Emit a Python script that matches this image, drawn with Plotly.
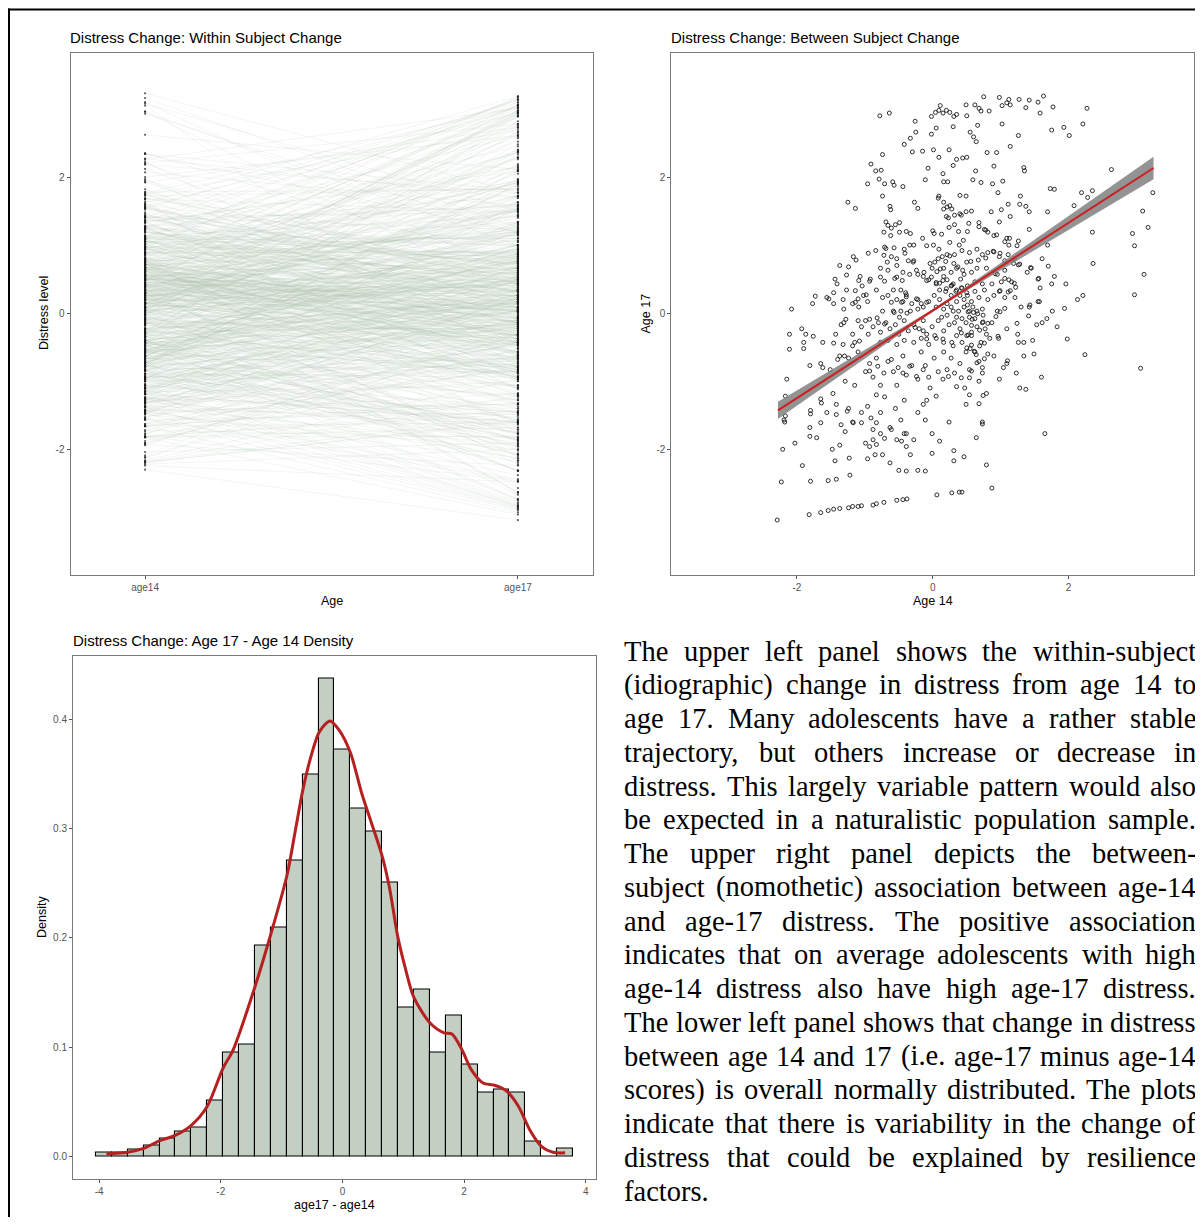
import numpy as np
import plotly.graph_objects as go

# page body has an 8px margin; figure is placed at (8, 8) in the page
OX, OY = 8, 8
W, H = 1195, 1209

# ---------------- data ----------------
ages = ["age14", "age17"]

# per-subject standardized distress at age 14 / age 17
age14_main = [
    -0.78,-0.64,-0.26,-0.02,0.04,0.09,0.11,0.15,0.20,0.25,0.31,0.35,0.30,
    0.49,0.50,0.62,0.68,0.71,0.66,0.75,0.83,0.98,1.02,1.09,1.12,1.14,1.27,1.37,1.42,1.55,1.63,1.58,1.77,2.27,2.21,1.93,2.01,1.75,1.26,1.02,1.14,0.55,0.60,0.64,
    -0.33,-0.25,-0.42,-0.30,-0.15,0.01,-0.02,0.05,0.09,0.24,0.35,0.44,0.50,0.30,0.80,0.94,0.90,1.34,1.35,2.63,-0.91,-0.84,-0.76,-0.74,-0.96,-0.79,-0.71,-0.59,-0.57,-0.44,
    -0.07,0.15,0.16,0.22,-0.11,0.59,0.63,0.71,0.88,0.96,1.03,0.09,0.16,0.40,0.49,1.73,1.79,2.19,2.35,2.28,2.08,3.24,
    -1.25,-1.14,-0.74,-0.63,-0.62,-0.27,-0.22,0.21,0.23,0.40,0.49,0.57,0.86,1.01,1.11,1.14,1.29,1.28,1.37,1.42,
    1.69,3.09,3.17,2.94,2.97,3.11,2.35,2.36,1.79,1.96,2.13,2.21,2.97,1.94,1.98,2.24,3.06,1.65,0.87,
    -0.69,-0.66,-0.55,-0.49,-0.62,-0.72,-0.39,-0.33,-0.28,-0.15,0.02,0.13,0.24,0.32,0.38,0.51,0.68,0.76,0.81,0.90,0.98,1.09,1.12,1.24,1.42,1.69,
    -1.17,-1.24,-1.37,-1.27,-1.44,-1.41,-1.07,-0.95,-0.84,-0.92,-0.71,-0.57,-0.77,-0.66,-0.53,-0.42,-0.36,-0.28,-0.44,-0.53,
    -0.34,-0.22,-0.14,-0.09,0.09,0.14,0.21,0.32,0.43,0.54,0.65,0.73,0.81,0.90,0.98,1.06,1.20,1.28,1.44,1.39,
    1.06,0.95,0.79,0.65,0.57,0.46,0.35,0.27,0.16,0.06,-0.01,-0.06,0.10,0.21,0.30,0.41,0.51,0.62,0.73,0.87,1.01,1.12,1.20,1.55,1.58,1.75,
    -2.08,-1.73,-1.77,-1.56,-1.46,-1.32,-1.31,-1.18,-1.10,-1.02,-0.96,-0.83,-0.74,-0.66,-0.58,-0.47,-0.39,-0.53,-0.44,-0.31,
    -0.22,-0.74,-0.58,-0.47,-0.33,-0.22,-0.14,-0.06,0.02,0.10,0.19,0.27,0.35,0.43,0.51,0.57,0.62,0.68,0.76,0.81,
    0.90,0.98,1.06,1.14,1.21,1.30,1.42,1.55,1.76,0.05,0.16,0.27,0.38,0.46,0.54,0.65,0.73,0.95,
    -2.11,-1.93,-1.87,-1.90,-2.11,-1.76,-1.62,-1.43,-1.46,-1.32,-1.31,-1.18,-1.15,-1.05,-0.99,-0.95,-0.88,-0.80,-0.77,-0.69,
    -0.63,-0.55,-0.50,-0.42,-0.36,-0.28,-0.20,-0.14,-0.09,-0.01,0.08,0.16,0.24,0.32,0.40,0.49,0.57,0.65,0.73,0.79,
    0.87,0.97,1.09,1.24,1.25,1.34,1.47,1.61,1.83,1.68,-0.77,-0.66,-0.53,-0.42,-0.28,-0.17,-0.06,0.05,0.16,0.30,0.43,0.57,0.71,0.84,
    -1.81,-1.65,-1.62,-1.51,-1.37,-1.29,-1.24,-1.15,-1.10,-0.99,-0.93,-0.88,-0.83,-0.77,-0.72,-0.66,-0.58,-0.53,-0.44,-0.39,
    -0.31,-0.22,-0.17,-0.11,-0.06,0.02,0.08,0.16,0.21,0.27,0.35,0.40,0.49,0.54,0.62,0.68,0.73,0.81,0.90,0.98,
    1.09,1.23,1.34,1.49,1.60,1.28,1.37,-2.15,
    -2.17,-2.19,-1.80,-1.80,-1.65,-1.47,-1.56,-1.65,-1.42,-1.81,-1.71,-1.81,-2.03,-2.21,-1.48,-1.37,-1.29,-1.18,-1.24,-1.05,
    -0.96,-0.91,-0.88,-0.83,-0.77,-0.71,-0.63,-0.55,-0.47,-0.42,-0.39,-0.28,-0.22,-0.14,-0.11,-0.09,-0.01,0.10,0.24,0.49,
    0.64,0.73,0.54,0.68,0.79,-0.99,-0.88,-0.77,-0.61,-0.53,-0.42,-2.17,-2.18,
    -2.23,-1.80,-1.54,-1.42,-1.22,-1.92,-1.44,-0.96,-0.85,-0.74,-0.63,-0.50,-0.39,-0.33,-0.22,-0.11,-0.01,0.31,0.31,0.46,0.79,
    -2.29,-1.82,-1.65,-1.54,-1.46,-1.37,-1.24,-1.18,-1.10,-1.05,-0.88,-0.83,-0.72,-0.53,-0.44,-0.38,0.06,0.28,0.39,0.43,
    0.40,0.46,0.51,0.59,0.35,0.30,0.21,0.13,0.35,0.43,0.54,0.62,0.21,0.10,0.05,0.27,0.16,
]
age17_main = [
    2.91,2.95,2.83,2.90,2.96,2.99,3.06,2.95,2.99,2.96,2.90,2.93,2.75,
    3.07,2.91,3.07,3.02,2.98,2.77,3.19,2.98,3.18,3.06,3.10,3.15,3.07,3.15,3.03,3.14,3.11,3.20,2.95,3.04,3.02,2.79,2.74,2.62,2.70,2.62,2.79,2.46,2.67,2.60,2.53,
    2.58,2.67,2.49,2.38,2.39,2.41,2.64,2.73,2.30,2.41,2.27,2.29,2.30,2.18,2.37,2.37,2.17,2.15,2.10,2.12,2.20,2.10,2.11,2.34,1.91,1.98,1.91,1.94,1.89,1.87,
    2.14,2.06,1.94,1.94,1.97,1.97,2.10,1.93,1.91,1.78,1.95,1.73,1.64,1.74,1.73,1.84,1.83,1.78,1.81,1.71,1.59,1.78,
    1.64,1.55,1.73,1.58,1.53,1.64,1.55,1.57,1.41,1.47,1.50,1.51,1.50,1.53,1.61,1.43,1.73,1.61,1.58,1.50,
    1.50,1.51,1.27,1.18,1.00,0.58,1.20,0.74,0.55,0.44,0.21,0.27,0.28,0.08,-0.37,-0.60,-0.80,-1.76,-2.56,
    1.35,1.30,1.31,1.34,1.15,1.20,1.21,1.18,1.01,1.11,1.18,1.17,1.27,1.31,1.21,1.21,1.28,1.24,1.20,1.15,1.35,1.11,1.01,1.00,1.24,1.01,
    0.84,0.69,0.71,0.57,0.51,0.44,0.55,0.89,0.93,0.51,0.98,0.97,0.67,0.64,0.81,0.95,0.78,0.78,0.61,0.54,
    0.58,0.58,0.55,1.00,0.95,0.84,0.87,0.87,0.93,0.90,0.95,0.87,0.90,0.91,0.84,0.78,0.81,0.73,0.68,0.61,
    0.64,0.58,0.67,0.67,0.61,0.58,0.67,0.61,0.67,0.62,0.67,0.50,0.45,0.50,0.44,0.51,0.41,0.47,0.44,0.44,0.47,0.50,0.45,0.51,0.38,0.44,
    0.07,0.26,0.15,0.24,0.15,0.21,0.07,0.15,0.22,0.27,0.18,0.35,0.24,0.27,0.35,0.35,0.28,0.21,0.18,0.15,
    0.21,0.04,0.04,0.04,0.04,0.07,0.10,0.18,0.27,0.21,0.33,0.27,0.35,0.38,0.27,0.18,0.33,0.24,0.35,0.21,
    0.27,0.33,0.24,0.34,0.24,0.10,0.10,0.18,0.04,0.10,0.07,0.10,0.04,0.10,0.04,0.04,0.07,0.04,
    -0.30,-0.22,-0.30,-0.42,-0.52,-0.33,-0.42,-0.30,-0.43,-0.45,-0.13,-0.30,-0.42,-0.19,-0.10,-0.30,-0.19,-0.13,-0.27,-0.13,
    -0.22,-0.16,-0.30,-0.10,-0.25,-0.16,-0.22,-0.10,-0.30,-0.19,-0.10,-0.25,-0.16,-0.13,-0.22,-0.13,-0.27,-0.19,-0.13,-0.30,
    -0.13,-0.36,-0.22,-0.14,-0.30,-0.42,-0.39,-0.13,-0.19,-0.07,-0.42,-0.39,-0.45,-0.39,-0.42,-0.36,-0.45,-0.36,-0.42,-0.47,-0.42,-0.46,-0.42,-0.36,
    -0.76,-0.73,-0.79,-0.82,-0.62,-0.99,-0.65,-1.05,-0.56,-0.85,-0.73,-0.93,-0.65,-1.05,-0.87,-0.70,-0.85,-1.05,-0.62,-0.90,
    -0.76,-0.96,-0.56,-0.76,-0.93,-0.65,-0.85,-0.56,-0.82,-0.65,-1.07,-0.73,-0.56,-0.82,-0.56,-0.70,-0.87,-0.59,-0.62,-0.96,
    -0.73,-0.87,-0.62,-0.59,-0.93,-1.09,-1.11,-0.96,
    -1.21,-1.56,-1.42,-1.47,-1.25,-1.17,-1.45,-1.60,-1.33,-1.67,-1.82,-1.80,-1.90,-1.99,-1.99,-1.93,-1.73,-1.59,-1.39,-1.45,
    -1.36,-1.53,-1.70,-1.19,-1.45,-1.22,-1.67,-1.39,-1.56,-1.27,-1.76,-1.85,-1.45,-1.33,-1.56,-1.27,-1.76,-1.87,-1.59,-1.33,
    -1.82,-1.59,-1.19,-1.32,-1.17,-1.90,-1.85,-1.76,-1.70,-1.85,-1.76,-1.50,-1.59,
    -2.47,-2.46,-2.45,-2.43,-2.37,-2.23,-2.16,-2.13,-2.07,-2.07,-2.19,-2.30,-2.31,-2.07,-2.30,-2.31,-2.05,-2.01,-2.16,-2.10,-2.22,
    -3.03,-2.95,-2.92,-2.89,-2.87,-2.86,-2.85,-2.83,-2.83,-2.82,-2.81,-2.79,-2.77,-2.74,-2.73,-2.72,-2.66,-2.63,-2.62,-2.62,
    0.27,0.21,0.13,0.10,0.18,0.04,-0.02,-0.05,-0.05,-0.07,-0.05,-0.07,0.15,0.35,0.44,0.41,0.55,
]
# additional subjects in the dense upper-left part of the cloud
age14_ul = [-0.49,-0.61,0.00,0.01,0.25,0.39,0.45,-1.13,-0.69,-1.09,-0.93,-1.46,-1.27,-1.14,-1.04,-0.98,
            -1.53,-1.14,-1.09,-0.67,-0.53,-0.72,-0.61,-0.41,-0.34,-0.77,-0.71,-0.56,-0.45,-0.40,
            -0.29,-0.24,-0.13,-0.04,0.03,0.08,0.11,0.19,0.25,0.31,0.37,0.44,0.50,
            -0.09,-0.02,0.05,0.15,0.20,0.28,0.34,0.42,0.50,-0.24,-0.17,-0.09,-0.46,-0.39,-0.61,
            0.08,0.16,0.25,0.28,0.20,0.32,0.42]
age17_ul = [1.20,1.26,1.22,1.01,1.05,1.01,1.08,0.79,0.96,0.49,0.48,0.31,0.35,0.34,0.41,0.28,
            0.22,0.17,0.10,0.76,0.71,0.86,0.84,0.89,1.01,0.54,0.48,0.52,0.49,0.31,
            0.76,0.64,0.61,0.74,0.76,0.81,0.66,0.77,0.85,0.74,0.69,0.64,0.76,
            0.49,0.54,0.46,0.49,0.37,0.42,0.33,0.38,0.31,0.22,0.15,0.17,0.17,0.25,0.17,
            1.70,1.54,1.59,1.54,1.43,1.45,1.45]
# additional subjects in the dense upper-right part of the cloud
age14_ur = [0.53,0.68,0.78,0.94,1.06,1.13,1.26,1.61,1.70,1.45,1.26,1.19,1.11,0.99,0.89,0.78,0.67,0.56,
            0.92,1.06,1.16,1.22,1.56,0.99,1.11,1.43,1.57]
age17_ur = [1.33,1.34,1.23,1.16,1.06,1.11,1.07,0.81,0.70,0.67,0.72,0.74,0.87,0.89,0.92,0.82,0.79,0.77,
            0.59,0.52,0.47,0.39,0.52,0.34,0.32,0.13,0.18]
# additional subjects in the dense lower-left part of the cloud
age14_ll = [-1.64,-1.42,-1.35,-1.26,-1.17,-1.05,-0.83,-0.46,-0.39,-0.71,-0.93,-0.83,-1.23,
            -1.40,-1.30,-1.18,-1.08,-0.93,-0.81,-0.61,-0.51,-0.44,-0.34,-0.24,-0.14,-0.04,0.05,0.15,0.23,0.32,0.42,0.47,
            -1.90,-1.35,-1.28,-1.10,-0.93,-0.82,-0.71,-0.57,-0.49,-0.38,-0.26,-0.14,-0.09,0.03,0.15,0.28,0.35,0.42,0.50]
age17_ll = [-1.31,-1.48,-1.63,-1.43,-1.60,-1.60,-1.60,-1.87,-1.95,-1.83,-1.95,-1.92,-2.12,
            -0.67,-0.62,-0.47,-0.40,-0.84,-0.77,-0.67,-0.79,-0.87,-0.77,-0.92,-0.82,-1.09,-1.21,-0.96,-0.92,-0.87,-0.94,-1.09,
            -0.51,-0.16,-0.08,-0.10,-0.08,-0.06,-0.15,0.02,-0.05,0.01,-0.20,-0.25,-0.37,-0.32,-0.37,-0.42,-0.32,-0.28,-0.32]
# additional subjects in the dense lower-right part of the cloud
age14_lr = [0.52,0.60,0.66,0.74,0.99,1.06,1.41,0.58,0.74,0.81,0.93,1.53,0.57,0.69,0.77,0.52,0.57,0.96,1.26,
            0.50,0.55,0.61,0.69,0.76,0.64,0.76,1.10,0.65,0.73,1.04,0.57,0.54,0.68,0.74,0.73]
age17_lr = [0.03,0.02,0.00,-0.02,0.03,0.08,-0.03,-0.08,-0.12,-0.14,-0.04,-0.16,-0.17,-0.24,-0.22,-0.31,-0.32,-0.33,-0.42,
            -0.50,-0.51,-0.55,-0.47,-0.43,-0.60,-0.66,-0.69,-0.72,-0.79,-0.79,-0.84,-0.94,-0.99,-1.20,-1.62]

for _a, _b in [(age14_main, age17_main), (age14_ul, age17_ul), (age14_ur, age17_ur),
               (age14_ll, age17_ll), (age14_lr, age17_lr)]:
    assert len(_a) == len(_b), (len(_a), len(_b))

age14 = age14_main + age14_ul + age14_ur + age14_ll + age14_lr
age17 = age17_main + age17_ul + age17_ur + age17_ll + age17_lr

# linear fit (geom_smooth, method = lm)
fit_slope = 0.644
fit_intercept = 0.05
fit_x_range = [-2.28, 3.25]
fit_se_center = 0.10        # x where the confidence band is narrowest
fit_se_c0 = 0.0004          # half-width^2 = c0 + c1 * (x - center)^2
fit_se_c1 = 0.0027

# histogram of age17 - age14 (30 bins, density scale)
hist_start = -4.054
hist_binwidth = 0.2615
hist_density = [0.003, 0.003, 0.006, 0.0098, 0.0165, 0.0226, 0.0266, 0.0507, 0.095, 0.102,
                0.193, 0.210, 0.271, 0.350, 0.438, 0.373, 0.319, 0.298, 0.251, 0.136,
                0.153, 0.095, 0.129, 0.084, 0.058, 0.061, 0.058, 0.0135, 0.0, 0.0067]

# kernel density curve
kde_x = [-3.88, -3.53, -3.27, -3.01, -2.75, -2.49, -2.23, -1.96, -1.80, -1.44, -1.17, -0.91, -0.77,
         -0.65, -0.51, -0.38, -0.205, -0.06, 0.13, 0.32, 0.648, 0.77, 0.91, 1.03, 1.17, 1.44, 1.67,
         1.80, 1.96, 2.12, 2.31, 2.50, 2.69, 2.89, 3.08, 3.27, 3.46, 3.66]
kde_y = [0.002, 0.0035, 0.007, 0.014, 0.019, 0.028, 0.045, 0.081, 0.097, 0.155, 0.205, 0.258, 0.300,
         0.336, 0.368, 0.389, 0.399, 0.391, 0.370, 0.332, 0.276, 0.247, 0.201, 0.173, 0.146, 0.122, 0.113,
         0.112, 0.098, 0.079, 0.067, 0.065, 0.060, 0.046, 0.024, 0.009, 0.0035, 0.003]

titles = ["Distress Change: Within Subject Change",
          "Distress Change: Between Subject Change",
          "Distress Change: Age 17 - Age 14 Density"]

text_lines = [
    "The upper left panel shows the within-subject",
    "(idiographic) change in distress from age 14 to",
    "age 17. Many adolescents have a rather stable",
    "trajectory, but others increase or decrease in",
    "distress. This largely variable pattern would also",
    "be expected in a naturalistic population sample.",
    "The upper right panel depicts the between-",
    "subject (nomothetic) association between age-14",
    "and age-17 distress. The positive association",
    "indicates that on average adolescents with high",
    "age-14 distress also have high age-17 distress.",
    "The lower left panel shows that change in distress",
    "between age 14 and 17 (i.e. age-17 minus age-14",
    "scores) is overall normally distributed. The plots",
    "indicate that there is variability in the change of",
    "distress that could be explained by resilience",
    "factors.",
]

# ---------------- helpers (page pixel -> paper) ----------------
def px(x):
    return (x - OX) / W

def py(y):
    return 1 - (y - OY) / H

SANS = "Liberation Sans, Arial, sans-serif"
SERIF = "Liberation Serif, Times New Roman, serif"

fig = go.Figure()

# ---- panel 1: within subject lines ----
lx, ly = [], []
for a, b in zip(age14, age17):
    lx += [0, 1, None]
    ly += [a, b, None]
fig.add_trace(go.Scatter(x=lx, y=ly, mode="lines",
                         line=dict(color="rgba(175,192,175,0.28)", width=0.55),
                         hoverinfo="skip", showlegend=False, xaxis="x", yaxis="y"))
fig.add_trace(go.Scatter(x=[0] * len(age14) + [1] * len(age17), y=age14 + age17,
                         mode="markers",
                         marker=dict(size=2.2, color="rgba(25,25,25,0.7)"),
                         hoverinfo="skip", showlegend=False, xaxis="x", yaxis="y"))

# ---- panel 2: scatter + regression ----
fig.add_trace(go.Scatter(x=age14, y=age17, mode="markers",
                         marker=dict(symbol="circle-open", size=4, color="#1a1a1a",
                                     line=dict(width=0.9)),
                         showlegend=False, xaxis="x2", yaxis="y2"))
xg = np.linspace(fit_x_range[0], fit_x_range[1], 80)
yg = fit_slope * xg + fit_intercept
hw = np.sqrt(fit_se_c0 + fit_se_c1 * (xg - fit_se_center) ** 2)
up, lo = yg + hw, yg - hw
fig.add_trace(go.Scatter(x=np.concatenate([xg, xg[::-1]]), y=np.concatenate([up, lo[::-1]]),
                         fill="toself", fillcolor="rgba(128,128,128,0.85)",
                         line=dict(width=0), mode="lines", hoverinfo="skip",
                         showlegend=False, xaxis="x2", yaxis="y2"))
fig.add_trace(go.Scatter(x=xg, y=yg, mode="lines", line=dict(color="#cc2020", width=2),
                         showlegend=False, xaxis="x2", yaxis="y2"))

# ---- panel 3: histogram + density ----
centers = [hist_start + hist_binwidth * (i + 0.5) for i in range(len(hist_density))]
fig.add_trace(go.Bar(x=centers, y=hist_density, width=hist_binwidth,
                     marker=dict(color="#c3cfc3", line=dict(color="#000000", width=1.1)),
                     showlegend=False, xaxis="x3", yaxis="y3"))
fig.add_trace(go.Scatter(x=kde_x, y=kde_y, mode="lines",
                         line=dict(color="#b52020", width=3, shape="spline", smoothing=0.8),
                         showlegend=False, xaxis="x3", yaxis="y3"))

# ---------------- axes ----------------
def axis_style(**kw):
    d = dict(showline=True, mirror=True, linecolor="#7a7a7a", linewidth=1,
             ticks="outside", ticklen=3, tickcolor="#555555", tickwidth=1,
             tickfont=dict(family=SANS, size=10, color="#555555"),
             showgrid=False, zeroline=False, fixedrange=True)
    d.update(kw)
    return d

fig.update_layout(
    width=W, height=H,
    margin=dict(l=0, r=0, t=0, b=0),
    paper_bgcolor="white", plot_bgcolor="white",
    bargap=0,
    xaxis=axis_style(domain=[px(70.5), px(592.5)], range=[-0.2, 1.2],
                     tickvals=[0, 1], ticktext=ages, anchor="y"),
    yaxis=axis_style(domain=[py(574.5), py(52.5)], range=[-3.83, 3.84],
                     tickvals=[-2, 0, 2], ticktext=["-2", "0", "2"], anchor="x"),
    xaxis2=axis_style(domain=[px(671.3), px(1193.6)], range=[-3.85, 3.84],
                      tickvals=[-2, 0, 2], ticktext=["-2", "0", "2"], anchor="y2"),
    yaxis2=axis_style(domain=[py(574.5), py(52.5)], range=[-3.83, 3.84],
                      tickvals=[-2, 0, 2], ticktext=["-2", "0", "2"], anchor="x2"),
    xaxis3=axis_style(domain=[px(73), px(595.5)], range=[-4.43, 4.16],
                      tickvals=[-4, -2, 0, 2, 4], ticktext=["-4", "-2", "0", "2", "4"],
                      anchor="y3"),
    yaxis3=axis_style(domain=[py(1179), py(655.5)], range=[-0.021, 0.459],
                      tickvals=[0, 0.1, 0.2, 0.3, 0.4],
                      ticktext=["0.0", "0.1", "0.2", "0.3", "0.4"], anchor="x3"),
)

ann = []
def add_text(x, y, text, size, family=SANS, color="black", xanchor="left", angle=0):
    ann.append(dict(x=px(x), y=py(y), xref="paper", yref="paper", text=text,
                    showarrow=False, xanchor=xanchor, yanchor="middle", textangle=angle,
                    borderpad=0, borderwidth=0,
                    font=dict(family=family, size=size, color=color)))

# titles
add_text(70, 37.5, titles[0], 15)
add_text(671, 37.5, titles[1], 15)
add_text(73, 640, titles[2], 15)
# axis titles
add_text(331.5, 600.5, "Age", 12.5, xanchor="center")
add_text(932.6, 600.5, "Age 14", 12.5, xanchor="center")
add_text(334, 1204.5, "age17 - age14", 12.5, xanchor="center")
add_text(44, 313, "Distress level", 12.5, xanchor="center", angle=-90)
add_text(645, 313.5, "Age 17", 12.5, xanchor="center", angle=-90)
add_text(42, 917, "Density", 12.5, xanchor="center", angle=-90)

# justified body text (Times metrics)
AFM = {' ': 250, '(': 333, ')': 333, '.': 250, ',': 250, '-': 333,
       'a': 444, 'b': 500, 'c': 444, 'd': 500, 'e': 444, 'f': 333, 'g': 500, 'h': 500,
       'i': 278, 'j': 278, 'k': 500, 'l': 278, 'm': 778, 'n': 500, 'o': 500, 'p': 500,
       'q': 500, 'r': 333, 's': 389, 't': 278, 'u': 500, 'v': 500, 'w': 722, 'x': 500,
       'y': 500, 'z': 444, 'T': 611, 'M': 889}
FS = 28.5
TEXT_L, TEXT_R = 624.0, 1196.0
LINE0, LSTEP = 651.0, 33.75

def tw(sx):
    return sum(AFM.get(c, 500) for c in sx) / 1000.0 * FS

for i, line in enumerate(text_lines):
    words = line.split(" ")
    yline = LINE0 + i * LSTEP
    if i == len(text_lines) - 1 or len(words) == 1:
        gap = AFM[' '] / 1000.0 * FS
    else:
        gap = (TEXT_R - TEXT_L - sum(tw(w) for w in words)) / (len(words) - 1)
    xcur = TEXT_L
    for w in words:
        add_text(xcur, yline, w, FS, family=SERIF)
        xcur += tw(w) + gap

fig.update_layout(annotations=ann)

# page frame lines (top and left)
fig.update_layout(shapes=[
    dict(type="line", xref="paper", yref="paper", x0=px(8), x1=1, y0=py(9.5), y1=py(9.5),
         line=dict(color="black", width=2)),
    dict(type="line", xref="paper", yref="paper", x0=px(9), x1=px(9), y0=py(8.5), y1=0,
         line=dict(color="black", width=2)),
])

fig.write_html("out.html", config={"displayModeBar": False})
